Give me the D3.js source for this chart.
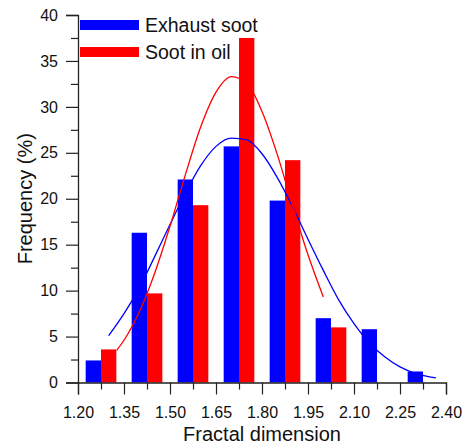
<!DOCTYPE html>
<html>
<head>
<meta charset="utf-8">
<script src="https://cdn.jsdelivr.net/npm/d3@7"></script>
<style>
  body { margin: 0; background: #fff; }
  svg { display: block; font-family: "Liberation Sans", Arial, sans-serif; }
</style>
</head>
<body>
<svg id="chart" width="467" height="446"></svg>
<script>
// bin centres (fractal dimension) and frequencies (%)
var binCenters = [1.275, 1.425, 1.575, 1.725, 1.875, 2.025, 2.175, 2.325];
var exhaustSoot = [2.4, 16.3, 22.1, 25.7, 19.8, 7.0, 5.8, 1.2];
var sootInOil = [3.6, 9.7, 19.3, 37.5, 24.2, 6.0, null, null];

// fitted curves
var exhaustFitX = [1.30, 1.35, 1.40, 1.45, 1.50, 1.55, 1.60, 1.65, 1.70, 1.75, 1.80, 1.85, 1.90, 1.95, 2.00, 2.05, 2.10, 2.15, 2.20, 2.25, 2.30, 2.367];
var exhaustFitY = [5.1, 7.5, 10.3, 13.7, 17.2, 20.6, 23.6, 25.7, 26.6, 26.4, 24.9, 22.3, 19.1, 15.6, 12.2, 9.0, 6.4, 4.3, 2.8, 1.7, 1.0, 0.5];
var oilFitX = [1.326, 1.35, 1.40, 1.45, 1.50, 1.55, 1.60, 1.65, 1.70, 1.75, 1.80, 1.85, 1.90, 1.95, 2.00];
var oilFitY = [3.5, 4.6, 7.7, 11.9, 17.0, 22.6, 27.8, 31.6, 33.3, 32.6, 29.5, 24.8, 19.2, 13.9, 9.3];

var xTicks = [1.20, 1.35, 1.50, 1.65, 1.80, 1.95, 2.10, 2.25, 2.40];
var xMinorTicks = [1.275, 1.425, 1.575, 1.725, 1.875, 2.025, 2.175, 2.325];
var yTicks = [0, 5, 10, 15, 20, 25, 30, 35, 40];
var yMinorTicks = [2.5, 7.5, 12.5, 17.5, 22.5, 27.5, 32.5, 37.5];

var seriesNames = ["Exhaust soot", "Soot in oil"];
var seriesColors = ["#0000ff", "#ff0000"];

var svg = d3.select("#chart");

var x = d3.scaleLinear().domain([1.2, 2.4]).range([78, 446]);
var y = d3.scaleLinear().domain([0, 40]).range([382.5, 15]);
var barW = 0.05;

// bars
var bars = svg.append("g");
bars.selectAll("rect.exh")
  .data(binCenters.map((c, i) => ({c: c, v: exhaustSoot[i]})))
  .enter().append("rect")
  .attr("x", d => x(d.c - barW))
  .attr("width", d => x(d.c) - x(d.c - barW))
  .attr("y", d => y(d.v))
  .attr("height", d => y(0) - y(d.v))
  .attr("fill", seriesColors[0]);

bars.selectAll("rect.oil")
  .data(binCenters.map((c, i) => ({c: c, v: sootInOil[i]})).filter(d => d.v != null))
  .enter().append("rect")
  .attr("x", d => x(d.c))
  .attr("width", d => x(d.c + barW) - x(d.c))
  .attr("y", d => y(d.v))
  .attr("height", d => y(0) - y(d.v))
  .attr("fill", seriesColors[1]);

// fit curves
var line = d3.line().x(d => x(d[0])).y(d => y(d[1])).curve(d3.curveMonotoneX);
svg.append("path")
  .attr("d", line(exhaustFitX.map((v, i) => [v, exhaustFitY[i]])))
  .attr("fill", "none").attr("stroke", seriesColors[0]).attr("stroke-width", 1.3);
svg.append("path")
  .attr("d", line(oilFitX.map((v, i) => [v, oilFitY[i]])))
  .attr("fill", "none").attr("stroke", seriesColors[1]).attr("stroke-width", 1.3);

// axes
var axisColor = "#222";
svg.append("g").attr("transform", "translate(0," + y(0) + ")")
  .call(d3.axisBottom(x).tickValues(xTicks).tickSize(12).tickPadding(12).tickFormat(d3.format(".2f")));
svg.append("g").attr("transform", "translate(0," + y(0) + ")")
  .call(d3.axisBottom(x).tickValues(xMinorTicks).tickSize(7).tickFormat(""))
  .select(".domain").remove();

svg.append("g").attr("transform", "translate(" + x(1.2) + ",0)")
  .call(d3.axisLeft(y).tickValues(yTicks).tickSize(12).tickPadding(8));
svg.append("g").attr("transform", "translate(" + x(1.2) + ",0)")
  .call(d3.axisLeft(y).tickValues(yMinorTicks).tickSize(7).tickFormat(""))
  .select(".domain").remove();

svg.selectAll(".domain").attr("stroke", axisColor).attr("stroke-width", 1.3);
svg.selectAll(".tick line").attr("stroke", axisColor).attr("stroke-width", 1.2);
svg.selectAll(".tick text")
  .style("font-family", '"Liberation Sans", Arial, sans-serif')
  .style("font-size", "16px")
  .attr("fill", "#111");

// axis titles
svg.append("text")
  .text("Fractal dimension")
  .attr("x", (x(1.2) + x(2.4)) / 2)
  .attr("y", 441)
  .attr("text-anchor", "middle")
  .style("font-size", "20px")
  .attr("fill", "#111");

svg.append("text")
  .text("Frequency (%)")
  .attr("transform", "translate(32," + (y(0) + y(40)) / 2 + ") rotate(-90)")
  .attr("text-anchor", "middle")
  .style("font-size", "20px")
  .attr("fill", "#111");

// legend
var legend = svg.append("g");
seriesNames.forEach(function(name, i) {
  legend.append("rect")
    .attr("x", 80).attr("y", 20 + i * 27)
    .attr("width", 59).attr("height", 10)
    .attr("fill", seriesColors[i]);
  legend.append("text")
    .text(name)
    .attr("x", 145).attr("y", 32 + i * 27)
    .style("font-size", "19.5px")
    .attr("fill", "#111");
});
</script>
</body>
</html>
